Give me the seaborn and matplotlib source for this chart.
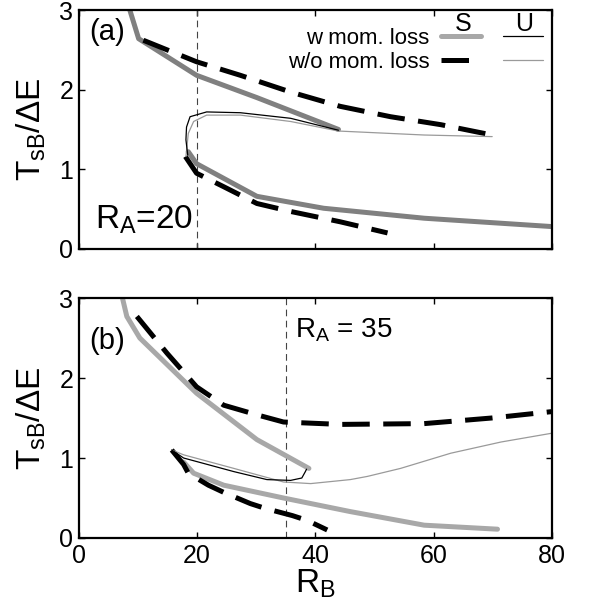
import numpy as np
import matplotlib
matplotlib.use("Agg")
import matplotlib.pyplot as plt
import seaborn as sns

# R_A values of the two panels (the dashed vertical marks)
ra_values = [20, 35]
panel_tags = ["(a)", "(b)"]

# panel (a), R_A = 20
a_sw_up_x = [8.4, 10.1, 19.9, 30.1, 43.9]
a_sw_up_y = [3.05, 2.64, 2.18, 1.90, 1.50]
a_uw_x = [43.9, 35.8, 27.3, 21.6, 18.8, 18.2, 18.1, 18.4]
a_uw_y = [1.49, 1.64, 1.71, 1.72, 1.66, 1.53, 1.37, 1.18]
a_sw_lo_x = [18.5, 19.9, 30.1, 41.4, 58.4, 80.0]
a_sw_lo_y = [1.22, 1.07, 0.66, 0.51, 0.385, 0.28]
a_swo_up_x = [10.9, 19.9, 27.3, 35.8, 44.2, 52.7, 61.2, 69.9]
a_swo_up_y = [2.62, 2.35, 2.18, 1.97, 1.79, 1.66, 1.56, 1.43]
a_uwo_x = [69.9, 58.4, 43.9, 35.8, 27.3, 21.6, 19.4, 18.5, 18.1]
a_uwo_y = [1.41, 1.43, 1.48, 1.60, 1.68, 1.68, 1.60, 1.45, 1.16]
a_swo_lo_x = [18.0, 19.9, 24.5, 30.1, 35.8, 44.2, 52.2]
a_swo_lo_y = [1.16, 0.95, 0.78, 0.57, 0.47, 0.34, 0.20]

# panel (b), R_A = 35
b_sw_up_x = [7.2, 8.1, 10.3, 19.9, 30.1, 38.9]
b_sw_up_y = [3.05, 2.77, 2.50, 1.81, 1.23, 0.87]
b_uw_x = [38.5, 38.3, 37.7, 35.8, 31.8, 26.2, 17.7, 15.7]
b_uw_y = [0.86, 0.83, 0.75, 0.72, 0.73, 0.83, 1.00, 1.10]
b_sw_lo_x = [17.7, 19.4, 24.5, 34.6, 45.9, 58.4, 70.8]
b_sw_lo_y = [0.95, 0.81, 0.66, 0.50, 0.33, 0.16, 0.11]
b_swo_up_x = [9.8, 14.9, 19.9, 24.5, 30.1, 34.6, 44.2, 58.4, 69.8, 80.0]
b_swo_up_y = [2.77, 2.31, 1.89, 1.66, 1.54, 1.45, 1.42, 1.43, 1.50, 1.58]
b_uwo_x = [80.0, 71.4, 62.9, 54.4, 48.8, 45.9, 39.2, 34.6, 26.2, 17.7, 15.7]
b_uwo_y = [1.31, 1.20, 1.06, 0.87, 0.77, 0.73, 0.68, 0.70, 0.87, 1.04, 1.10]
b_swo_lo_x = [15.7, 17.7, 18.5, 21.9, 24.5, 29.0, 31.5, 36.1, 38.6, 42.0]
b_swo_lo_y = [1.10, 0.92, 0.81, 0.66, 0.57, 0.43, 0.37, 0.28, 0.22, 0.10]

x_ticks = [0, 20, 40, 60, 80]
y_ticks = [0, 1, 2, 3]

sns.set_style("ticks")
plt.rcParams["font.family"] = ["Liberation Sans", "DejaVu Sans"]
plt.rcParams["mathtext.fontset"] = "custom"
plt.rcParams["mathtext.rm"] = "Liberation Sans"
plt.rcParams["mathtext.it"] = "Liberation Sans"
plt.rcParams["mathtext.default"] = "regular"
for k in ["text.color", "axes.labelcolor", "xtick.color", "ytick.color",
          "axes.edgecolor"]:
    plt.rcParams[k] = "black"

DASH = (0, (5.5, 2.7))


def curve(ax, x, y, kind, thick_col="#808080"):
    if kind == "S_w":
        kw = dict(color=thick_col, lw=3.6)
    elif kind == "S_wo":
        kw = dict(color="black", lw=3.6, linestyle=DASH)
    elif kind == "U_w":
        kw = dict(color="black", lw=0.9)
    else:
        kw = dict(color="#9a9a9a", lw=0.9)
    sns.lineplot(x=x, y=y, sort=False, estimator=None, ax=ax, **kw)
    return ax.lines[-1]


def style_axis(ax, ra, bottom):
    ax.set_xlim(0, 80)
    ax.set_ylim(0, 3)
    ax.set_xticks(x_ticks)
    ax.set_yticks(y_ticks)
    ax.tick_params(direction="in", top=True, right=True, length=4,
                   width=1, labelsize=18, pad=4)
    if not bottom:
        ax.tick_params(labelbottom=False)
    for s in ax.spines.values():
        s.set_linewidth(1.6)
    ax.axvline(ra, color="#444444", lw=0.8, linestyle=(0, (6, 4)), zorder=1)
    ax.set_ylabel(r"$T_{sB}/\Delta E$", fontsize=24, labelpad=8)


fig = plt.figure(figsize=(5.89, 6.07), dpi=100)
ax1 = fig.add_axes([0.134, 0.590, 0.803, 0.3935])
ax2 = fig.add_axes([0.134, 0.1137, 0.803, 0.3953])

# panel (a)
curve(ax1, a_sw_up_x, a_sw_up_y, "S_w")
curve(ax1, a_sw_lo_x, a_sw_lo_y, "S_w")
h_swo = curve(ax1, a_swo_up_x, a_swo_up_y, "S_wo")
curve(ax1, a_swo_lo_x, a_swo_lo_y, "S_wo")
h_uwo = curve(ax1, a_uwo_x, a_uwo_y, "U_wo")
h_uw = curve(ax1, a_uw_x, a_uw_y, "U_w")
style_axis(ax1, ra_values[0], False)
ax1.text(1.8, 2.72, panel_tags[0], fontsize=21, va="center", ha="left")
ax1.text(2.7, 0.36, r"$R_A$=20", fontsize=24, va="center", ha="left")

# panel (b)
h_sw = curve(ax2, b_sw_up_x, b_sw_up_y, "S_w", "#a8a8a8")
curve(ax2, b_sw_lo_x, b_sw_lo_y, "S_w", "#a8a8a8")
curve(ax2, b_swo_up_x, b_swo_up_y, "S_wo")
curve(ax2, b_swo_lo_x, b_swo_lo_y, "S_wo")
curve(ax2, b_uwo_x, b_uwo_y, "U_wo")
curve(ax2, b_uw_x, b_uw_y, "U_w")
style_axis(ax2, ra_values[1], True)
ax2.text(1.8, 2.46, panel_tags[1], fontsize=21, va="center", ha="left")
ax2.text(36.6, 2.6, r"$R_A$ = 35", fontsize=20, va="center", ha="left")
ax2.set_xlabel(r"$R_B$", fontsize=24, labelpad=0)

# legend: rows = with / without momentum loss, columns = S / U
leg = ax1.legend(handles=[h_sw, h_swo, h_uw, h_uwo],
                 labels=["w mom. loss", "w/o mom. loss", "", ""],
                 ncol=2, markerfirst=False, frameon=False, fontsize=16,
                 handlelength=1.8, handletextpad=0.5, columnspacing=0.5,
                 labelspacing=0.15, borderpad=0, borderaxespad=0,
                 loc="upper right", bbox_to_anchor=(0.981, 0.925))
ax1.text(0.812, 0.94, "S", transform=ax1.transAxes, fontsize=18,
         ha="center", va="center")
ax1.text(0.941, 0.94, "U", transform=ax1.transAxes, fontsize=18,
         ha="center", va="center")

fig.savefig("out.png", dpi=100)
